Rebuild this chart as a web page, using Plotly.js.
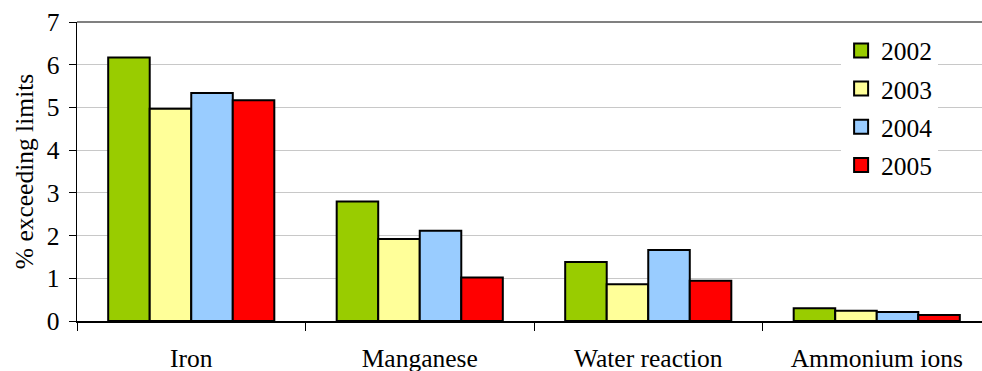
<!DOCTYPE html>
<html>
<head>
<meta charset="utf-8">
<script src="https://cdn.plot.ly/plotly-3.0.1.min.js"></script>
<style>
html,body{margin:0;padding:0;overflow:hidden;background:#fff;}
#chart{width:991px;height:371px;}
#chart svg text{font-family:'Liberation Serif', serif !important;}
</style>
</head>
<body>
<div id="chart"></div>
<script>
const categories = ["Iron", "Manganese", "Water reaction", "Ammonium ions"];
const years = ["2002", "2003", "2004", "2005"];
const values2002 = [6.17, 2.80, 1.38, 0.30];
const values2003 = [4.97, 1.92, 0.86, 0.24];
const values2004 = [5.34, 2.11, 1.66, 0.21];
const values2005 = [5.17, 1.02, 0.94, 0.14];
const colors = ["#99CC00", "#FFFF99", "#99CCFF", "#FF0000"];

const series = [values2002, values2003, values2004, values2005];
const FONT = "Liberation Serif";
const FS = 25.5;

const barTraces = series.map((vals, i) => ({
  type: "bar",
  name: years[i],
  x: categories,
  y: vals,
  showlegend: false,
  marker: {color: colors[i], line: {color: "#000000", width: 2}},
  hoverinfo: "skip"
}));

// legend entries (square swatches like the original legend keys)
const legendTraces = years.map((yr, i) => ({
  type: "scatter",
  mode: "markers",
  name: yr,
  x: [null],
  y: [null],
  legendgroup: yr,
  showlegend: true,
  marker: {symbol: "square", size: 14, color: colors[i], line: {color: "#000000", width: 2}},
  hoverinfo: "skip"
}));

const layout = {
  width: 991,
  height: 371,
  margin: {l: 77, r: 0, t: 22, b: 50, pad: 0},
  paper_bgcolor: "#ffffff",
  plot_bgcolor: "#ffffff",
  font: {family: FONT, size: FS, color: "#000000"},
  barmode: "group",
  bargap: 0.273,
  bargroupgap: 0,
  showlegend: true,
  legend: {
    x: 0.836, y: 0.982, xanchor: "left", yanchor: "top",
    bgcolor: "#ffffff", borderwidth: 0,
    font: {family: FONT, size: FS, color: "#000000"},
    tracegroupgap: 2,
    itemsizing: "trace",
    itemclick: false, itemdoubleclick: false
  },
  xaxis: {
    type: "category",
    tickson: "boundaries",
    ticks: "outside",
    ticklen: 8,
    tickcolor: "#000000",
    tickwidth: 1,
    showline: true,
    linecolor: "#000000",
    linewidth: 1.5,
    showgrid: false,
    zeroline: false,
    range: [-0.5, 3.5],
    tickfont: {family: FONT, size: FS, color: "#000000"},
    ticklabelstandoff: 14,
    fixedrange: true
  },
  yaxis: {
    range: [0, 7],
    dtick: 1,
    tick0: 0,
    ticks: "outside",
    ticklen: 7,
    tickcolor: "#000000",
    tickwidth: 1,
    showline: true,
    linecolor: "#000000",
    linewidth: 1.5,
    showgrid: true,
    gridcolor: "#c8c8c8",
    gridwidth: 1,
    zeroline: false,
    tickfont: {family: FONT, size: FS, color: "#000000"},
    ticklabelstandoff: 4,
    title: {text: "% exceeding limits", font: {family: FONT, size: FS, color: "#000000"}, standoff: 5},
    fixedrange: true
  },
  shapes: [{
    type: "line", xref: "paper", yref: "paper",
    x0: 0, x1: 1, y0: 1, y1: 1,
    line: {color: "#808080", width: 2}
  }]
};

Plotly.newPlot("chart", barTraces.concat(legendTraces), layout, {staticPlot: true, displayModeBar: false});
</script>
</body>
</html>
